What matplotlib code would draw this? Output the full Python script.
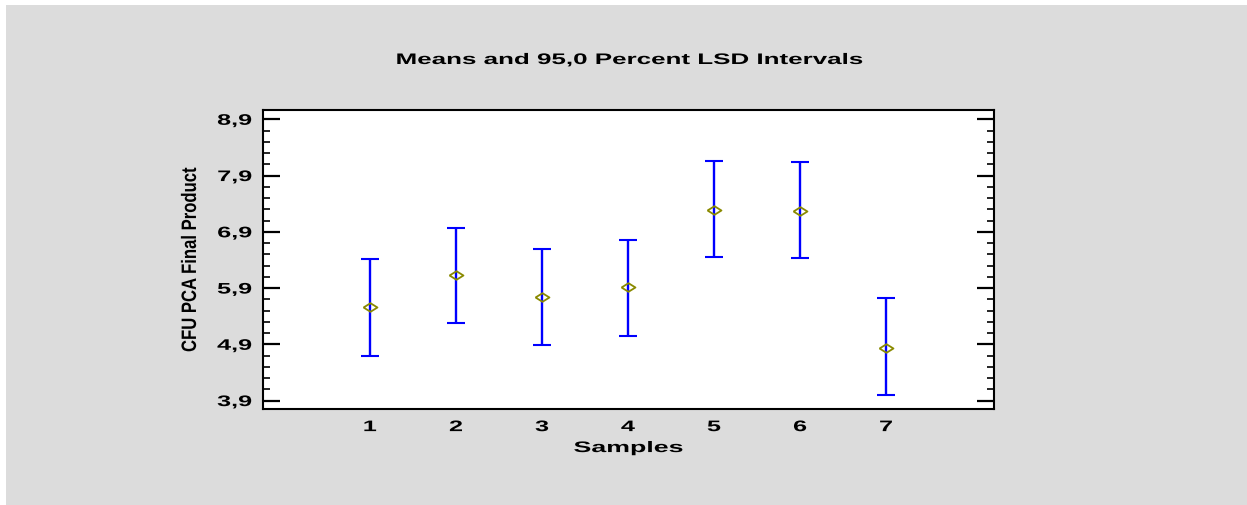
import numpy as np
import matplotlib
matplotlib.use("Agg")
import matplotlib.pyplot as plt
from matplotlib.patches import Rectangle
from matplotlib.ticker import FixedLocator
from matplotlib.patheffects import AbstractPathEffect
from matplotlib.transforms import Affine2D

# values
samples = [1, 2, 3, 4, 5, 6, 7]
means = [5.56, 6.14, 5.74, 5.91, 7.29, 7.27, 4.84]
lower = [4.70, 5.28, 4.89, 5.05, 6.46, 6.43, 3.99]
upper = [6.41, 6.97, 6.60, 6.76, 8.16, 8.14, 5.72]
y_ticks = [3.9, 4.9, 5.9, 6.9, 7.9, 8.9]
y_tick_labels = ["3,9", "4,9", "5,9", "6,9", "7,9", "8,9"]


class Stretch(AbstractPathEffect):
    """Stretch the glyphs of a text along x (or y for vertical text)."""
    def __init__(self, factor, anchor="center", vertical=False):
        super().__init__()
        self.factor = factor
        self.anchor = anchor
        self.vertical = vertical

    def draw_path(self, renderer, gc, tpath, affine, rgbFace=None):
        ext = tpath.get_extents(affine)
        if self.vertical:
            c = (ext.y0 + ext.y1) / 2
            t = affine + Affine2D().translate(0, -c).scale(1, self.factor).translate(0, c)
        else:
            c = ext.x1 if self.anchor == "right" else (ext.x0 + ext.x1) / 2
            t = affine + Affine2D().translate(-c, 0).scale(self.factor, 1).translate(c, 0)
        renderer.draw_path(gc, tpath, t, rgbFace)


W, H = 1247, 506
fig = plt.figure(figsize=(W / 100, H / 100), dpi=100)
fig.patch.set_facecolor("white")
fig.patches.append(Rectangle((6 / W, 0), 1 - 6 / W, 1 - 6 / H, transform=fig.transFigure,
                             facecolor="#dcdcdc", edgecolor="none", zorder=-10))

ax = fig.add_axes([263 / W, 1 - 410 / H, (994 - 263) / W, (410 - 111) / H])
ax.set_facecolor("white")

means = np.array(means)
err = [means - np.array(lower), np.array(upper) - means]
ax.errorbar(samples, means, yerr=err, fmt="none", ecolor="#0000ff", elinewidth=1.7,
            capsize=6.5, capthick=1.5, zorder=2)

diamond = [(-1, 0), (0, 0.62), (1, 0), (0, -0.62), (-1, 0)]
ax.plot(samples, means, linestyle="none", marker=diamond, markersize=10,
        markerfacecolor="none", markeredgecolor="#8a8a00", markeredgewidth=1.3, zorder=3)

ax.set_xlim(-0.244, 8.256)
ax.set_ylim(3.75, 9.065)

font = ["Liberation Sans", "DejaVu Sans"]

ax.set_xticks(samples)
ax.set_xticklabels([str(s) for s in samples])
ax.tick_params(axis="x", length=0, pad=8)
ax.yaxis.set_major_locator(FixedLocator(y_ticks))
ax.set_yticklabels(y_tick_labels)
ax.yaxis.set_minor_locator(FixedLocator(np.round(np.arange(3.9, 9.0, 0.2), 2)))
ax.tick_params(axis="y", which="major", direction="in", length=12, width=1.6,
               left=True, right=True, pad=8)
ax.tick_params(axis="y", which="minor", direction="in", length=5, width=1.2,
               left=True, right=True)

for lab in ax.get_xticklabels():
    lab.set_fontfamily(font)
    lab.set_fontweight("bold")
    lab.set_fontsize(11)
    lab.set_path_effects([Stretch(1.65)])
for lab in ax.get_yticklabels():
    lab.set_fontfamily(font)
    lab.set_fontweight("bold")
    lab.set_fontsize(11)
    lab.set_path_effects([Stretch(1.65, anchor="right")])

for sp in ax.spines.values():
    sp.set_linewidth(1.5)

xl = ax.set_xlabel("Samples", fontsize=11, fontweight="bold", family=font, labelpad=5)
xl.set_path_effects([Stretch(1.75)])
yl = ax.set_ylabel("CFU PCA Final Product", fontsize=15, fontweight="bold",
                   family=font, labelpad=22)
yl.set_path_effects([Stretch(0.8, vertical=True)])

title = fig.text(629.5 / W, 1 - 65 / H, "Means and 95,0 Percent LSD Intervals",
                 ha="center", va="baseline", fontsize=11, fontweight="bold", family=font)
title.set_path_effects([Stretch(1.70)])

fig.savefig("out.png", dpi=100)
